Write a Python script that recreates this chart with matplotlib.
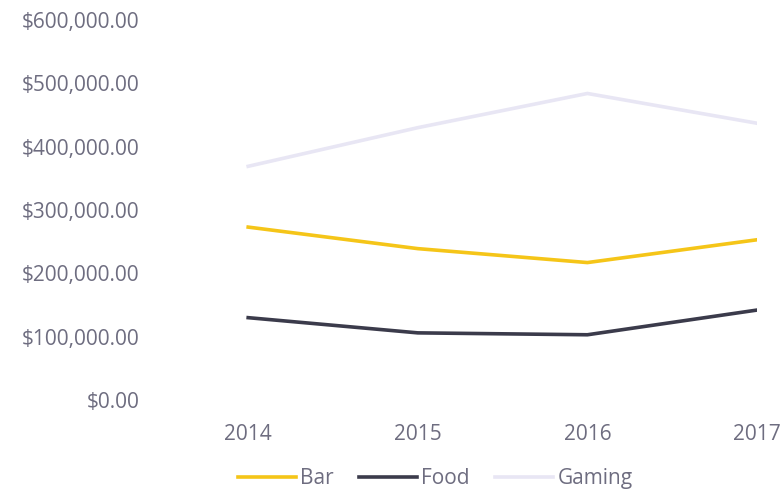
import matplotlib.pyplot as plt
from matplotlib.ticker import FuncFormatter

# data
years = [2014, 2015, 2016, 2017]
bar = [273000, 239000, 217000, 253000]
food = [130000, 106000, 103000, 142000]
gaming = [369000, 430000, 484000, 437000]

TEXT = "#6e6d80"
plt.rcParams['font.family'] = ['Open Sans', 'DejaVu Sans']

fig = plt.figure(figsize=(7.84, 4.93), dpi=100)
ax = fig.add_axes([160 / 784, 93 / 493, (757 - 160) / 784, 380 / 493])

ax.plot(years, bar, color="#f5c518", lw=2.6, label="Bar", solid_joinstyle="miter")
ax.plot(years, food, color="#3b3b4b", lw=2.6, label="Food", solid_joinstyle="miter")
ax.plot(years, gaming, color="#e8e6f4", lw=2.6, label="Gaming", solid_joinstyle="miter")

ax.set_ylim(0, 600000)
ax.set_xlim(2014 - 0.52, 2017)
ax.set_yticks(range(0, 600001, 100000))
ax.set_xticks(years)
ax.yaxis.set_major_formatter(FuncFormatter(lambda v, p: f"${v:,.2f}"))
ax.tick_params(length=0, labelsize=15, colors=TEXT, pad=15)
ax.tick_params(axis="x", pad=17)
for s in ax.spines.values():
    s.set_visible(False)

fig.legend(loc="lower center", bbox_to_anchor=(0.555, -0.03), ncol=3, frameon=False,
           fontsize=15, labelcolor=TEXT, handlelength=2.8, handletextpad=0.2,
           columnspacing=1.2)

fig.savefig("out.png", dpi=100)
